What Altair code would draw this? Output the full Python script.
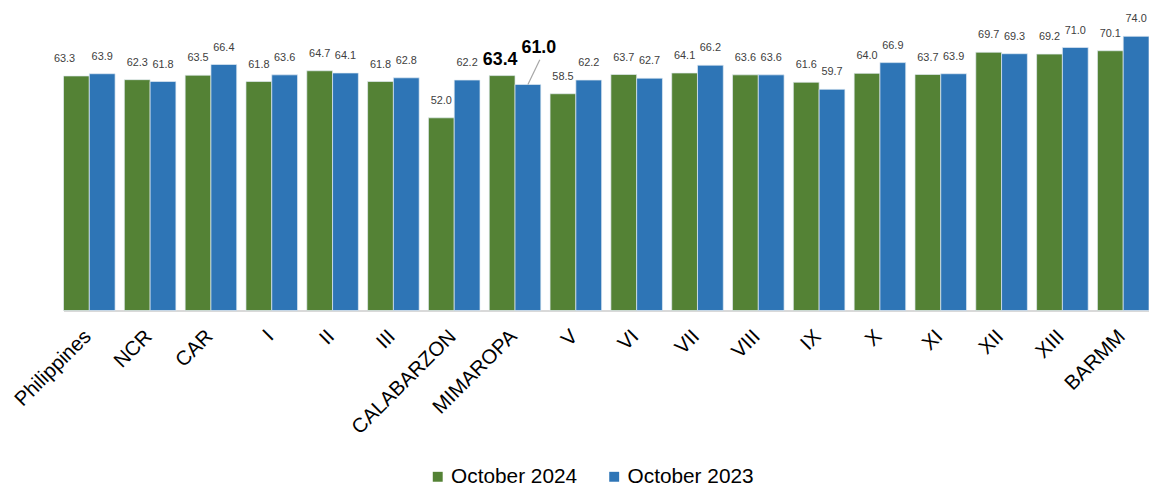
import altair as alt
import pandas as pd

regions = ["Philippines", "NCR", "CAR", "I", "II", "III", "CALABARZON", "MIMAROPA",
           "V", "VI", "VII", "VIII", "IX", "X", "XI", "XII", "XIII", "BARMM"]
oct2024 = [63.3, 62.3, 63.5, 61.8, 64.7, 61.8, 52.0, 63.4, 58.5, 63.7, 64.1, 63.6,
           61.6, 64.0, 63.7, 69.7, 69.2, 70.1]
oct2023 = [63.9, 61.8, 66.4, 63.6, 64.1, 62.8, 62.2, 61.0, 62.2, 62.7, 66.2, 63.6,
           59.7, 66.9, 63.9, 69.3, 71.0, 74.0]
series = ["October 2024", "October 2023"]
colors = ["#548235", "#2E75B6"]

rows = []
for r, a, b in zip(regions, oct2024, oct2023):
    rows.append({"region": r, "series": series[0], "value": a})
    rows.append({"region": r, "series": series[1], "value": b})
df = pd.DataFrame(rows)

FONT = "Liberation Sans"

x = alt.X("region:N", sort=regions, title=None,
          scale=alt.Scale(paddingInner=0.152, paddingOuter=0),
          axis=alt.Axis(labelAngle=-45, labelAlign="right", labelBaseline="alphabetic",
                        labelFontSize=20.5, labelFont=FONT,
                        labelColor="#000000", ticks=False, domainColor="#d9d9d9",
                        domainWidth=2, labelPadding=27, labelOffset=3, labelLimit=300))
xo = alt.XOffset("series:N", sort=series, scale=alt.Scale(paddingInner=0, paddingOuter=0))
y = alt.Y("value:Q", scale=alt.Scale(domain=[0, 80]), axis=None)

base = alt.Chart(df)

bars = base.mark_bar(stroke="#e4ecf4", strokeWidth=0.7).encode(
    x=x, xOffset=xo, y=y,
    color=alt.Color("series:N", sort=series,
                    scale=alt.Scale(domain=series, range=colors),
                    legend=alt.Legend(title=None, orient="none", legendX=367, legendY=456,
                                      direction="horizontal", symbolType="square",
                                      symbolSize=100, symbolStrokeWidth=0,
                                      labelFontSize=21, labelFont=FONT,
                                      labelColor="#000000", columnPadding=26,
                                      symbolOffset=0, labelOffset=3)),
)

txt_style = dict(fontSize=11, font=FONT, color="#404040", baseline="alphabetic", dy=-14)

normal = base.transform_filter(
    "datum.region != 'MIMAROPA' && !(datum.region == 'Philippines' && datum.series == 'October 2024')"
).mark_text(**txt_style).encode(
    x=x, xOffset=xo, y=y, text=alt.Text("value:Q", format=".1f"))

phil = base.transform_filter(
    "datum.region == 'Philippines' && datum.series == 'October 2024'"
).mark_text(dx=-12, **txt_style).encode(
    x=x, xOffset=xo, y=y, text=alt.Text("value:Q", format=".1f"))

mim24 = base.transform_filter(
    "datum.region == 'MIMAROPA' && datum.series == 'October 2024'"
).mark_text(fontSize=18, fontWeight="bold", font=FONT, color="#000000",
            baseline="alphabetic", dy=-11, dx=-2).encode(
    x=x, xOffset=xo, y=y, text=alt.Text("value:Q", format=".1f"))

mim23 = base.transform_filter(
    "datum.region == 'MIMAROPA' && datum.series == 'October 2023'"
).mark_text(fontSize=18, fontWeight="bold", font=FONT, color="#000000",
            baseline="alphabetic", dy=-32, dx=11).encode(
    x=x, xOffset=xo, y=y, text=alt.Text("value:Q", format=".1f"))

leader = base.transform_filter(
    "datum.region == 'MIMAROPA' && datum.series == 'October 2023'"
).mark_rule(color="#a6a6a6", strokeWidth=1.2, xOffset=13, x2Offset=25, y2Offset=-25).encode(
    x=x, x2=alt.X2("region:N"), y=y, y2=alt.Y2("value:Q"))

chart = alt.layer(bars, normal, phil, mim24, mim23, leader).properties(
    width=1095, height=299,
    autosize=alt.AutoSizeParams(type="none"),
    padding={"left": 56, "top": 4, "right": 0, "bottom": 185},
).configure_view(stroke=None)

chart.save("out.html", embed_options={"renderer": "svg", "actions": False})
